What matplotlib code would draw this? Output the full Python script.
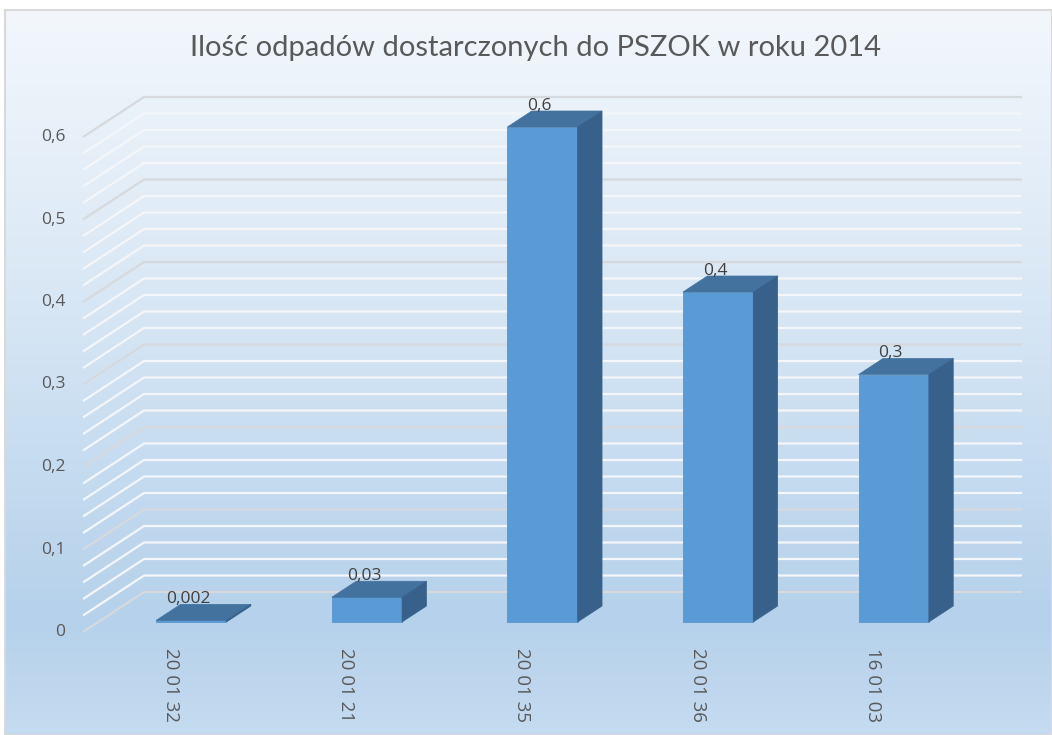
import numpy as np
import matplotlib
matplotlib.use('Agg')
import matplotlib.pyplot as plt
from matplotlib.patches import Polygon, Rectangle
from matplotlib.colors import LinearSegmentedColormap

# Data
categories = ['20 01 32', '20 01 21', '20 01 35', '20 01 36', '16 01 03']
values = [0.002, 0.03, 0.6, 0.4, 0.3]
y_ticks = [0, 0.1, 0.2, 0.3, 0.4, 0.5, 0.6]
title = 'Ilość odpadów dostarczonych do PSZOK w roku 2014'

def pl(v):
    return f'{v:g}'.replace('.', ',')

W, H = 1052, 735
fig = plt.figure(figsize=(W / 100, H / 100), dpi=100)
fig.patch.set_facecolor('white')

# gradient background of the chart area
bg = fig.add_axes([5 / W, 0, 1 - 5 / W, 1 - 10 / H])
cmap = LinearSegmentedColormap.from_list('bg', [(0, '#f3f7fc'), (0.4, '#d8e7f5'),
                                                (0.84, '#b5d1eb'), (1, '#c5dbf0')])
bg.imshow(np.linspace(0, 1, 256).reshape(-1, 1), aspect='auto', cmap=cmap,
          extent=[0, 1, 0, 1], origin='upper')
bg.set_xlim(0, 1)
bg.set_ylim(0, 1)
bg.axis('off')
fig.patches.append(Rectangle((5 / W, 0), 1 - 5 / W, 1 - 10 / H, transform=fig.transFigure,
                             fill=False, edgecolor='#d9d9d9', lw=1.5))

# plotting axes: x = category units on the front plane, y = value
ax = fig.add_axes([83 / W, (H - 632) / H, 878 / W, 495 / H])
ax.set_xlim(0, len(categories))
ax.set_ylim(0, 0.6)
ax.axis('off')

DX = 61 / 175.6     # full depth shift in category units
DY = 40 / 825.0     # full depth shift in value units
n = len(categories)

# gridlines on side wall and back wall
for k in range(31):
    v = k * 0.02
    major = k % 5 == 0
    ax.plot([0, DX, n + DX], [v, v + DY, v + DY],
            color='#d6d9dd' if major else '#f4f6f9', lw=1.6, zorder=1,
            clip_on=False, solid_capstyle='butt')

front_c = '#5b9bd5'
top_c = '#43729f'
side_c = '#37618a'
f, dd, bw = 0.25, 0.4, 0.4
for i, v in enumerate(values):
    x0 = i + 0.33 + f * DX
    yb = f * DY
    ax.add_patch(Rectangle((x0, yb), bw, v, facecolor=front_c,
                           edgecolor='#5a95c9', lw=0.6, zorder=3, clip_on=False))
    ax.add_patch(Polygon([(x0, v + yb), (x0 + bw, v + yb),
                          (x0 + bw + dd * DX, v + yb + dd * DY),
                          (x0 + dd * DX, v + yb + dd * DY)],
                         closed=True, facecolor=top_c, edgecolor=top_c, lw=0.5,
                         zorder=3, clip_on=False))
    ax.add_patch(Polygon([(x0 + bw, yb), (x0 + bw + dd * DX, yb + dd * DY),
                          (x0 + bw + dd * DX, v + yb + dd * DY), (x0 + bw, v + yb)],
                         closed=True, facecolor=side_c, edgecolor=side_c, lw=0.5,
                         zorder=3, clip_on=False))
    ax.text(i + 0.6, v + 0.038, pl(v), ha='center', va='center', fontsize=12.5,
            color='#404040', family='Open Sans', zorder=4, clip_on=False)
    ax.text(i + 0.5, -0.019, categories[i], rotation=270, ha='center', va='top',
            fontsize=13.5, color='#595959', family='Open Sans', clip_on=False)

for t in y_ticks:
    ax.text(-0.1, t, pl(t), ha='right', va='center', fontsize=12.5,
            color='#595959', family='Open Sans', clip_on=False)

fig.text(536 / W, 1 - 48 / H, title, ha='center', va='center', fontsize=21,
         color='#595959', family='Lato')

fig.savefig('out.png', dpi=100)
